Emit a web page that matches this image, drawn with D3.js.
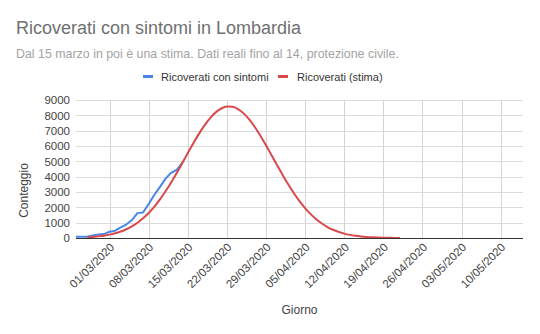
<!DOCTYPE html>
<html>
<head>
<meta charset="utf-8">
<script src="https://cdn.jsdelivr.net/npm/d3@7"></script>
<style>
  html, body { margin: 0; padding: 0; background: #fff; }
  svg { display: block; font-family: Arial, "Liberation Sans", sans-serif; }
</style>
</head>
<body>
<svg id="chart" width="540" height="334"></svg>
<script>
// Ricoverati con sintomi (Lombardia), dati reali della protezione civile
const realDates = ["24/02/2020","25/02/2020","26/02/2020","27/02/2020","28/02/2020","29/02/2020",
  "01/03/2020","02/03/2020","03/03/2020","04/03/2020","05/03/2020","06/03/2020","07/03/2020",
  "08/03/2020","09/03/2020","10/03/2020","11/03/2020","12/03/2020","13/03/2020","14/03/2020"];
const realValues = [76, 79, 79, 172, 235, 256, 406, 478, 698, 877, 1169, 1622, 1661,
  2217, 2802, 3319, 3852, 4247, 4435, 4898];

// Stima giornaliera dei ricoverati, dal 26/02 al 22/04
const estStart = "26/02/2020";
const estValues = [49, 73, 107, 154, 219, 306, 421, 569, 758, 995, 1283, 1628, 2035, 2503,
  3028, 3605, 4227, 4874, 5532, 6179, 6792, 7347, 7821, 8193, 8446, 8569, 8555, 8406,
  8128, 7734, 7242, 6673, 6052, 5401, 4744, 4100, 3487, 2919, 2405, 1950, 1555, 1221,
  943, 717, 537, 396, 286, 204, 143, 99, 67, 45, 30, 19, 12, 8, 5];

const xDomain = ["24/02/2020", "14/05/2020"];
const xTickLabels = ["01/03/2020","08/03/2020","15/03/2020","22/03/2020","29/03/2020",
  "05/04/2020","12/04/2020","19/04/2020","26/04/2020","03/05/2020","10/05/2020"];
const yTicks = [0, 1000, 2000, 3000, 4000, 5000, 6000, 7000, 8000, 9000];

const seriesNames = ["Ricoverati con sintomi", "Ricoverati (stima)"];
const seriesColors = ["#4a86e8", "#d9484a"];

const parse = d3.timeParse("%d/%m/%Y");
const fmt = d3.timeFormat("%d/%m/%Y");

const realData = realDates.map((d, i) => ({ date: parse(d), value: realValues[i] }));
const est0 = parse(estStart);
const estData = estValues.map((v, i) => ({ date: d3.timeDay.offset(est0, i), value: v }));

const margin = { left: 76, right: 17, top: 100, bottom: 96 };
const W = 540, H = 334;
const innerW = W - margin.left - margin.right;
const innerH = H - margin.top - margin.bottom;

const svg = d3.select("#chart");

const x = d3.scaleTime()
  .domain(xDomain.map(parse))
  .range([margin.left, margin.left + innerW]);
const y = d3.scaleLinear()
  .domain([0, 9000])
  .range([margin.top + innerH, margin.top]);

// Title and subtitle
svg.append("text")
  .attr("x", 16).attr("y", 33.5)
  .attr("font-size", 18)
  .attr("fill", "#707070")
  .text("Ricoverati con sintomi in Lombardia");
svg.append("text")
  .attr("x", 16).attr("y", 57.5)
  .attr("font-size", 12.4)
  .attr("fill", "#a3a3a3")
  .text("Dal 15 marzo in poi è una stima. Dati reali fino al 14, protezione civile.");

// Legend
const legend = svg.append("g").attr("font-size", 11).attr("fill", "#333");
const legendPos = [{ sx: 143, tx: 161 }, { sx: 278, tx: 297 }];
seriesNames.forEach((name, i) => {
  legend.append("line")
    .attr("x1", legendPos[i].sx).attr("x2", legendPos[i].sx + 10)
    .attr("y1", 76.5).attr("y2", 76.5)
    .attr("stroke", seriesColors[i]).attr("stroke-width", 3);
  legend.append("text")
    .attr("x", legendPos[i].tx).attr("y", 80.5)
    .text(name);
});

// Gridlines
const tickDates = xTickLabels.map(parse);
svg.append("g")
  .selectAll("line")
  .data(yTicks.filter(t => t > 0))
  .join("line")
  .attr("x1", margin.left).attr("x2", margin.left + innerW)
  .attr("y1", d => Math.round(y(d)) + 0.5).attr("y2", d => Math.round(y(d)) + 0.5)
  .attr("stroke", "#dcdcdc").attr("stroke-width", 1);
svg.append("g")
  .selectAll("line")
  .data(tickDates)
  .join("line")
  .attr("x1", d => Math.round(x(d)) + 0.5).attr("x2", d => Math.round(x(d)) + 0.5)
  .attr("y1", margin.top).attr("y2", margin.top + innerH)
  .attr("stroke", "#d4d4d4").attr("stroke-width", 1);

// Y axis labels
const yAxis = d3.axisLeft(y).tickValues(yTicks).tickFormat(d3.format("d")).tickSize(0).tickPadding(6);
const gy = svg.append("g")
  .attr("transform", `translate(${margin.left},0)`)
  .call(yAxis);
gy.select(".domain").remove();
gy.selectAll("text")
  .attr("font-size", 11.5)
  .attr("font-family", "Arial, 'Liberation Sans', sans-serif")
  .attr("fill", "#444");

// X axis labels (rotated)
const xAxis = d3.axisBottom(x).tickValues(tickDates).tickFormat(fmt).tickSize(0).tickPadding(0);
const gx = svg.append("g")
  .attr("transform", `translate(0,${margin.top + innerH})`)
  .call(xAxis);
gx.select(".domain").remove();
gx.selectAll("text")
  .attr("font-size", 11.5)
  .attr("font-family", "Arial, 'Liberation Sans', sans-serif")
  .attr("fill", "#444")
  .attr("text-anchor", "end")
  .attr("dy", null)
  .attr("transform", "translate(5,10) rotate(-45)");

// Axis titles
svg.append("text")
  .attr("x", margin.left + innerW / 2).attr("y", 314)
  .attr("text-anchor", "middle")
  .attr("font-size", 12).attr("fill", "#444")
  .text("Giorno");
svg.append("text")
  .attr("transform", `translate(27.5,${190.5}) rotate(-90)`)
  .attr("text-anchor", "middle")
  .attr("font-size", 12).attr("fill", "#444")
  .text("Conteggio");

// Series
const line = d3.line()
  .x(d => x(d.date))
  .y(d => y(d.value));

svg.append("path")
  .datum(realData)
  .attr("d", line)
  .attr("fill", "none")
  .attr("stroke", seriesColors[0])
  .attr("stroke-width", 2)
  .attr("stroke-linejoin", "round");

svg.append("path")
  .datum(estData)
  .attr("d", line.curve(d3.curveMonotoneX))
  .attr("fill", "none")
  .attr("stroke", seriesColors[1])
  .attr("stroke-width", 2)
  .attr("stroke-linejoin", "round");

// Baseline
svg.append("line")
  .attr("x1", margin.left).attr("x2", margin.left + innerW)
  .attr("y1", Math.round(y(0)) + 0.5).attr("y2", Math.round(y(0)) + 0.5)
  .attr("stroke", "#333").attr("stroke-width", 1);
</script>
</body>
</html>
